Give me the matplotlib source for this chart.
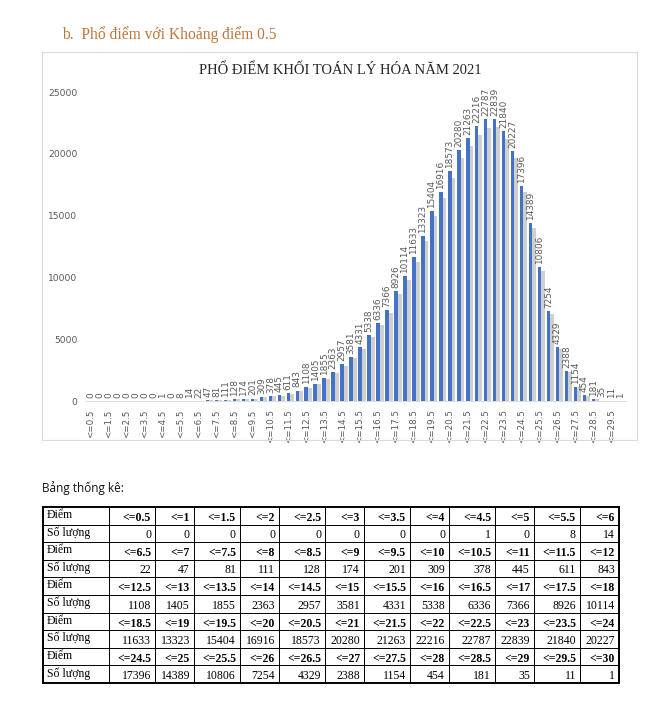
import numpy as np
import matplotlib
matplotlib.use('Agg')
import matplotlib.pyplot as plt
from matplotlib.patches import Rectangle

# score thresholds (<=0.5 ... <=30) and number of candidates
scores = ['0.5', '1', '1.5', '2', '2.5', '3', '3.5', '4', '4.5', '5', '5.5', '6',
          '6.5', '7', '7.5', '8', '8.5', '9', '9.5', '10', '10.5', '11', '11.5', '12',
          '12.5', '13', '13.5', '14', '14.5', '15', '15.5', '16', '16.5', '17', '17.5', '18',
          '18.5', '19', '19.5', '20', '20.5', '21', '21.5', '22', '22.5', '23', '23.5', '24',
          '24.5', '25', '25.5', '26', '26.5', '27', '27.5', '28', '28.5', '29', '29.5', '30']
counts = [0, 0, 0, 0, 0, 0, 0, 0, 1, 0, 8, 14,
          22, 47, 81, 111, 128, 174, 201, 309, 378, 445, 611, 843,
          1108, 1405, 1855, 2363, 2957, 3581, 4331, 5338, 6336, 7366, 8926, 10114,
          11633, 13323, 15404, 16916, 18573, 20280, 21263, 22216, 22787, 22839, 21840, 20227,
          17396, 14389, 10806, 7254, 4329, 2388, 1154, 454, 181, 35, 11, 1]
labels = ['<=' + s for s in scores]
y_ticks = [0, 5000, 10000, 15000, 20000, 25000]

W, H = 660, 727
fig = plt.figure(figsize=(W / 100, H / 100), dpi=100)
fig.patch.set_facecolor('white')


def px_box(x0, y0, x1, y1):
    return [x0 / W, 1 - y1 / H, (x1 - x0) / W, (y1 - y0) / H]


SERIF = 'Liberation Serif'
GRAY = '#595959'

# heading
fig.text(62 / W, 1 - 35 / H, 'b.  Phổ điểm với Khoảng điểm 0.5', family=SERIF,
         fontsize=11.2, color='#c0763a', va='center', ha='left')

# chart frame
fig.patches.append(Rectangle((42 / W, 1 - 440 / H), (637 - 42) / W, (440 - 52) / H,
                             transform=fig.transFigure, fill=False,
                             edgecolor='#d9d9d9', lw=0.8))
fig.text(340 / W, 1 - 70 / H, 'PHỔ ĐIỂM KHỐI TOÁN LÝ HÓA NĂM 2021', family=SERIF,
         fontsize=10.5, color='#262626', ha='center', va='center')

ax = fig.add_axes(px_box(85.6, 92, 625.6, 401))
x = np.arange(len(counts))
vals = np.array(counts)
ax.bar(x + 0.4, vals * 0.97, width=0.45, color='#cfcfcf', zorder=1)
ax.bar(x, vals, width=0.4, color='#4472c4', zorder=2)
for xi, v in zip(x, counts):
    ax.text(xi, v + 250, str(v), rotation=90, ha='center', va='bottom',
            fontsize=6.4, color=GRAY, clip_on=False)
ax.set_xlim(-0.6, 59.6)
ax.set_ylim(0, 25000)
ax.set_yticks(y_ticks)
ax.set_yticklabels([str(t) for t in y_ticks], fontsize=6.6, color=GRAY)
ax.set_xticks(x[::2])
ax.set_xticklabels(labels[::2], rotation=90, fontsize=6.3, color=GRAY)
ax.tick_params(length=0, pad=6)
for s in ['top', 'right', 'left']:
    ax.spines[s].set_visible(False)
ax.spines['bottom'].set_color('#d9d9d9')
ax.spines['bottom'].set_linewidth(0.6)

# table
fig.text(42 / W, 1 - 488 / H, 'Bảng thống kê:', family='Open Sans', fontsize=8.5,
         color='#111111', ha='left', va='center')

tx = fig.add_axes([0, 0, 1, 1])
tx.set_xlim(0, W)
tx.set_ylim(H, 0)
tx.axis('off')

col_w = [66] + [46, 39] * 6
col_edges = np.concatenate([[43], 43 + np.cumsum(col_w)])
top, bottom = 507, 683
n_rows = 10
row_h = (bottom - top) / n_rows
row_edges = top + row_h * np.arange(n_rows + 1)

for i, ye in enumerate(row_edges):
    lw = 1.4 if i in (0, n_rows) else 0.7
    tx.plot([col_edges[0], col_edges[-1]], [ye, ye], color='black', lw=lw)
for j, xe in enumerate(col_edges):
    lw = 1.4 if j in (0, len(col_edges) - 1) else 0.7
    tx.plot([xe, xe], [top, bottom], color='black', lw=lw)

for r in range(5):
    y_s = row_edges[2 * r]
    y_c = row_edges[2 * r + 1]
    tx.text(col_edges[0] + 4, y_s + row_h * 0.45, 'Điểm', family=SERIF, fontsize=8.5,
            ha='left', va='center', color='black')
    tx.text(col_edges[0] + 4, y_c + row_h * 0.45, 'Số lượng', family=SERIF, fontsize=8.5,
            ha='left', va='center', color='black')
    for c in range(12):
        k = r * 12 + c
        xr = col_edges[c + 2] - 4
        tx.text(xr, y_s + row_h * 0.62, labels[k], family=SERIF, fontsize=8.5,
                fontweight='bold', ha='right', va='center', color='black')
        tx.text(xr, y_c + row_h * 0.6, str(counts[k]), family=SERIF, fontsize=8.5,
                ha='right', va='center', color='black')

fig.savefig('out.png', dpi=100)
